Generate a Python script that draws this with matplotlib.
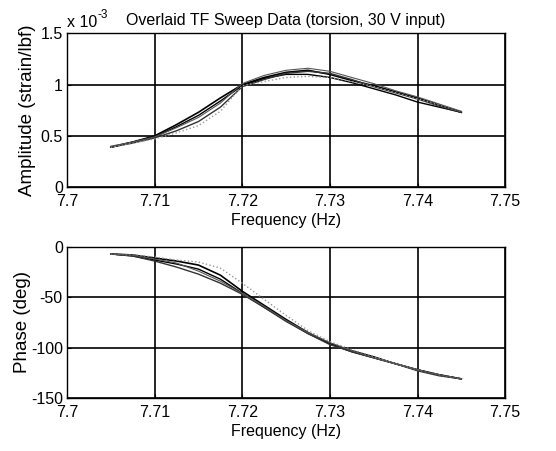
import matplotlib.pyplot as plt

freq = [7.705, 7.7075, 7.71, 7.7125, 7.715, 7.7175, 7.72, 7.7225, 7.725,
        7.7275, 7.73, 7.7325, 7.735, 7.7375, 7.74, 7.7425, 7.745]

# amplitude, in units of 1e-3 strain/lbf
amp_1 = [0.39, 0.44, 0.50, 0.61, 0.73, 0.87, 1.00, 1.07, 1.12, 1.14, 1.10, 1.04, 0.99, 0.93, 0.87, 0.80, 0.73]
amp_2 = [0.39, 0.44, 0.49, 0.59, 0.70, 0.84, 0.99, 1.06, 1.10, 1.10, 1.07, 1.02, 0.96, 0.90, 0.83, 0.78, 0.73]
amp_3 = [0.39, 0.43, 0.48, 0.55, 0.64, 0.78, 0.98, 1.05, 1.11, 1.13, 1.11, 1.05, 0.98, 0.92, 0.86, 0.79, 0.73]
amp_4 = [0.39, 0.43, 0.47, 0.53, 0.60, 0.74, 0.99, 1.03, 1.07, 1.08, 1.07, 1.03, 0.98, 0.92, 0.86, 0.80, 0.74]
amp_5 = [0.40, 0.44, 0.49, 0.58, 0.68, 0.82, 1.01, 1.09, 1.14, 1.16, 1.13, 1.07, 1.01, 0.94, 0.88, 0.81, 0.74]

# phase, deg
ph_1 = [-7, -8, -11, -14, -18, -28, -44, -58, -72, -85, -96, -104, -110, -116, -122, -127, -131]
ph_2 = [-7, -9, -13, -17, -22, -32, -46, -60, -73, -86, -96, -103, -109, -116, -122, -127, -131]
ph_3 = [-7, -9, -14, -20, -27, -36, -47, -60, -74, -86, -97, -104, -110, -116, -123, -128, -131]
ph_4 = [-7, -8, -10, -13, -15, -21, -36, -52, -68, -83, -94, -102, -109, -116, -122, -127, -131]
ph_5 = [-7, -8, -12, -16, -24, -34, -46, -59, -73, -85, -95, -103, -110, -116, -122, -127, -131]

x_ticks = [7.7, 7.71, 7.72, 7.73, 7.74, 7.75]
x_labels = ['7.7', '7.71', '7.72', '7.73', '7.74', '7.75']
amp_ticks = [0, 0.5, 1, 1.5]
amp_labels = ['0', '0.5', '1', '1.5']
ph_ticks = [-150, -100, -50, 0]

plt.rcParams['font.family'] = ['Liberation Sans', 'DejaVu Sans']
plt.rcParams['font.size'] = 10
plt.rcParams['axes.unicode_minus'] = False

fig = plt.figure(figsize=(5.56, 4.51), dpi=100)
ax1 = fig.add_axes([0.1205, 0.585, 0.788, 0.341])
ax2 = fig.add_axes([0.1205, 0.1175, 0.788, 0.335])

styles = [('k', '-', 1.2), ('k', '-', 1.0), ('#333333', '-', 1.0), ('#999999', ':', 1.0), ('#555555', '-', 0.8)]

for y, (c, ls, lw) in zip([amp_1, amp_2, amp_3, amp_4, amp_5], styles):
    ax1.plot(freq, y, color=c, ls=ls, lw=lw)
for y, (c, ls, lw) in zip([ph_1, ph_2, ph_3, ph_4, ph_5], styles):
    ax2.plot(freq, y, color=c, ls=ls, lw=lw)

for ax in (ax1, ax2):
    ax.set_xlim(7.7, 7.75)
    ax.set_xticks(x_ticks)
    ax.set_xticklabels(x_labels)
    ax.grid(True, color='k', ls='-', lw=1.2)
    ax.tick_params(axis='x', direction='in', length=3, labelsize=11.5, pad=5)
    ax.tick_params(axis='y', direction='in', length=3, labelsize=11.5, pad=3)
    ax.set_xlabel('Frequency (Hz)', fontsize=11.5, labelpad=3)
    for s in ax.spines.values():
        s.set_linewidth(1.0)

ax1.set_ylim(0, 1.5)
ax1.set_yticks(amp_ticks)
ax1.set_yticklabels(amp_labels)
ax1.set_ylabel('Amplitude (strain/lbf)', fontsize=13.5, labelpad=3)
ax1.set_title('Overlaid TF Sweep Data (torsion, 30 V input)', fontsize=11.5, pad=6)
# multiplier, drawn as plain text so the exponent keeps a hyphen
ax1.text(0.0, 1.02, 'x 10', transform=ax1.transAxes, fontsize=11.5, ha='left', va='bottom')
ax1.text(0.069, 1.08, '-3', transform=ax1.transAxes, fontsize=8.5, ha='left', va='bottom')

ax2.set_ylim(-150, 0)
ax2.set_yticks(ph_ticks)
ax2.set_ylabel('Phase (deg)', fontsize=13.5, labelpad=0)

fig.savefig('out.png', dpi=100)
